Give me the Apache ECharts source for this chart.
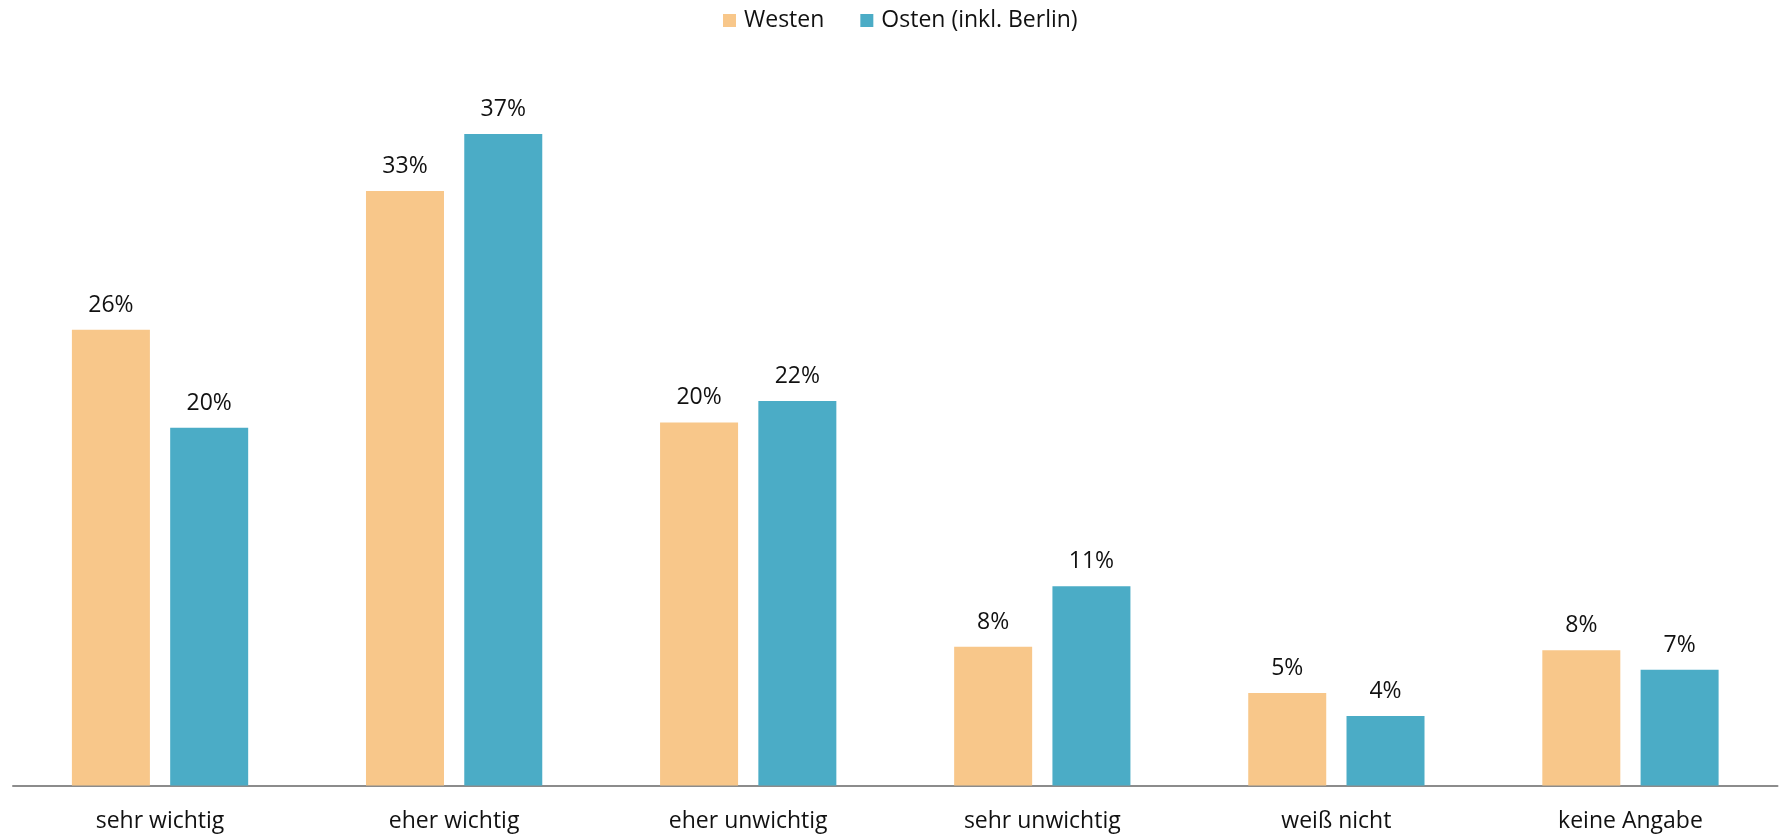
<!DOCTYPE html>
<html>
<head>
<meta charset="utf-8">
<script src="https://cdn.jsdelivr.net/npm/echarts@6/dist/echarts.min.js"></script>
<style>html,body{margin:0;padding:0;background:#fff;}#chart{width:1781px;height:836px;}</style>
</head>
<body>
<div id="chart"></div>
<script>
const categories = ['sehr wichtig', 'eher wichtig', 'eher unwichtig', 'sehr unwichtig', 'weiß nicht', 'keine Angabe'];
const westen = [25.6, 33.4, 20.4, 7.8, 5.2, 7.6];
const osten = [20.1, 36.6, 21.6, 11.2, 3.9, 6.5];
const seriesNames = ['Westen', 'Osten (inkl. Berlin)'];
const colors = ['#F8C78A', '#4BACC6'];
const FONT = '"Open Sans", "Noto Sans", sans-serif';

const chart = echarts.init(document.getElementById('chart'));
const labelCfg = {
  show: true, position: 'top', distance: 13,
  color: '#111', fontSize: 23, fontFamily: FONT,
  formatter: p => Math.round(p.value) + '%'
};
chart.setOption({
  animation: false,
  color: colors,
  legend: {
    top: 4, left: 718, itemWidth: 13, itemHeight: 13, itemGap: 36,
    icon: 'rect',
    textStyle: { fontSize: 23, color: '#111', fontFamily: FONT, padding: [0, 0, 0, 3] },
    data: seriesNames
  },
  grid: { left: 13, right: 3.5, top: 73.5, bottom: 50.5, containLabel: false },
  xAxis: {
    type: 'category', data: categories,
    axisLine: { lineStyle: { color: '#8c8c8c', width: 2 } },
    axisTick: { show: false },
    axisLabel: { margin: 24, fontSize: 23, color: '#111', fontFamily: FONT }
  },
  yAxis: { type: 'value', min: 0, max: 40, show: false, splitLine: { show: false } },
  series: [
    { name: seriesNames[0], type: 'bar', data: westen, barWidth: 78, barGap: '26%', label: labelCfg },
    { name: seriesNames[1], type: 'bar', data: osten, barWidth: 78, barGap: '26%', label: labelCfg }
  ]
});
</script>
</body>
</html>
